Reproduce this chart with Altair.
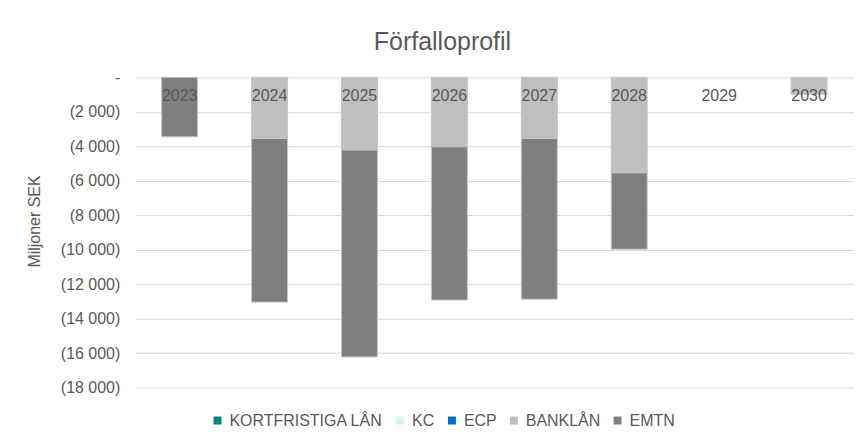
import altair as alt
import pandas as pd

years = ["2023", "2024", "2025", "2026", "2027", "2028", "2029", "2030"]
series = ["KORTFRISTIGA LÅN", "KC", "ECP", "BANKLÅN", "EMTN"]
colors = ["#00897b", "#d3f4f1", "#0070c0", "#bfbfbf", "#7f7f7f"]

kortfristiga = [0, 0, 0, 0, 0, 0, 0, 0]
kc = [0, 0, 0, 0, 0, 0, 0, 0]
ecp = [0, 0, 0, 0, 0, 0, 0, 0]
banklan = [0, -3550, -4220, -4030, -3550, -5540, 0, -1000]
emtn = [-3450, -9490, -12000, -8890, -9320, -4430, 0, 0]
tick_values = [0, -2000, -4000, -6000, -8000, -10000, -12000, -14000, -16000, -18000]

values = [kortfristiga, kc, ecp, banklan, emtn]
rows = []
for si, (name, vals) in enumerate(zip(series, values)):
    for y, v in zip(years, vals):
        rows.append({"year": y, "series": name, "ord": si, "value": v})
df = pd.DataFrame(rows)
labels_df = pd.DataFrame({"year": years, "zero": [0] * len(years)})

FONT = "Liberation Sans"
TXT = "#595959"

xscale = alt.Scale(domain=years, paddingInner=0.6, paddingOuter=0.3)
yscale = alt.Scale(domain=[-18000, 0], nice=False)


def y_axis():
    return alt.Axis(
        values=tick_values,
        labelExpr="datum.value == 0 ? '-' : '(' + format(abs(datum.value)/1000, 'd') + ' 000)'",
        labelOverlap=False,
        domain=False,
        ticks=False,
        grid=True,
        gridColor="#d9d9d9",
        labelPadding=15,
        labelFont=FONT,
        labelFontSize=16,
        labelColor=TXT,
        titleFont=FONT,
        titleFontSize=16,
        titleFontWeight="normal",
        titleColor=TXT,
        titlePadding=18,
        titleY=144,
    )


bars = alt.Chart(df).transform_filter("datum.value != 0").mark_bar(
    stroke="#c6c6c6", strokeWidth=1
).encode(
    x=alt.X("year:N", scale=xscale, axis=None),
    y=alt.Y("value:Q", scale=yscale, stack="zero", title="Miljoner SEK", axis=y_axis()),
    color=alt.Color(
        "series:N",
        scale=alt.Scale(domain=series, range=colors),
        legend=alt.Legend(
            title=None,
            orient="none",
            direction="horizontal",
            legendX=75,
            legendY=336,
            symbolType="square",
            symbolSize=64,
            symbolStrokeWidth=0,
            labelFont=FONT,
            labelFontSize=16,
            labelColor=TXT,
            labelOffset=4,
            columnPadding=9,
        ),
    ),
    order=alt.Order("ord:Q"),
)

year_text = alt.Chart(labels_df).mark_text(
    font=FONT, fontSize=16, color=TXT, baseline="middle", dy=19
).encode(
    x=alt.X("year:N", scale=xscale, axis=None),
    y=alt.Y("zero:Q", scale=yscale, title="Miljoner SEK", axis=y_axis()),
    text="year:N",
)

chart = alt.layer(bars, year_text).properties(
    width=721,
    height=311,
    autosize=alt.AutoSizeParams(type="none"),
    padding={"left": 127, "top": 69, "right": 0, "bottom": 40},
    background="white",
    title=alt.TitleParams(
        "Förfalloprofil",
        font=FONT,
        fontSize=25,
        fontWeight="normal",
        color=TXT,
        anchor="middle",
        dx=-52,
        baseline="alphabetic",
        offset=-6,
    ),
).configure_view(stroke=None)

chart.save("out.html", embed_options={"renderer": "svg", "actions": False})
